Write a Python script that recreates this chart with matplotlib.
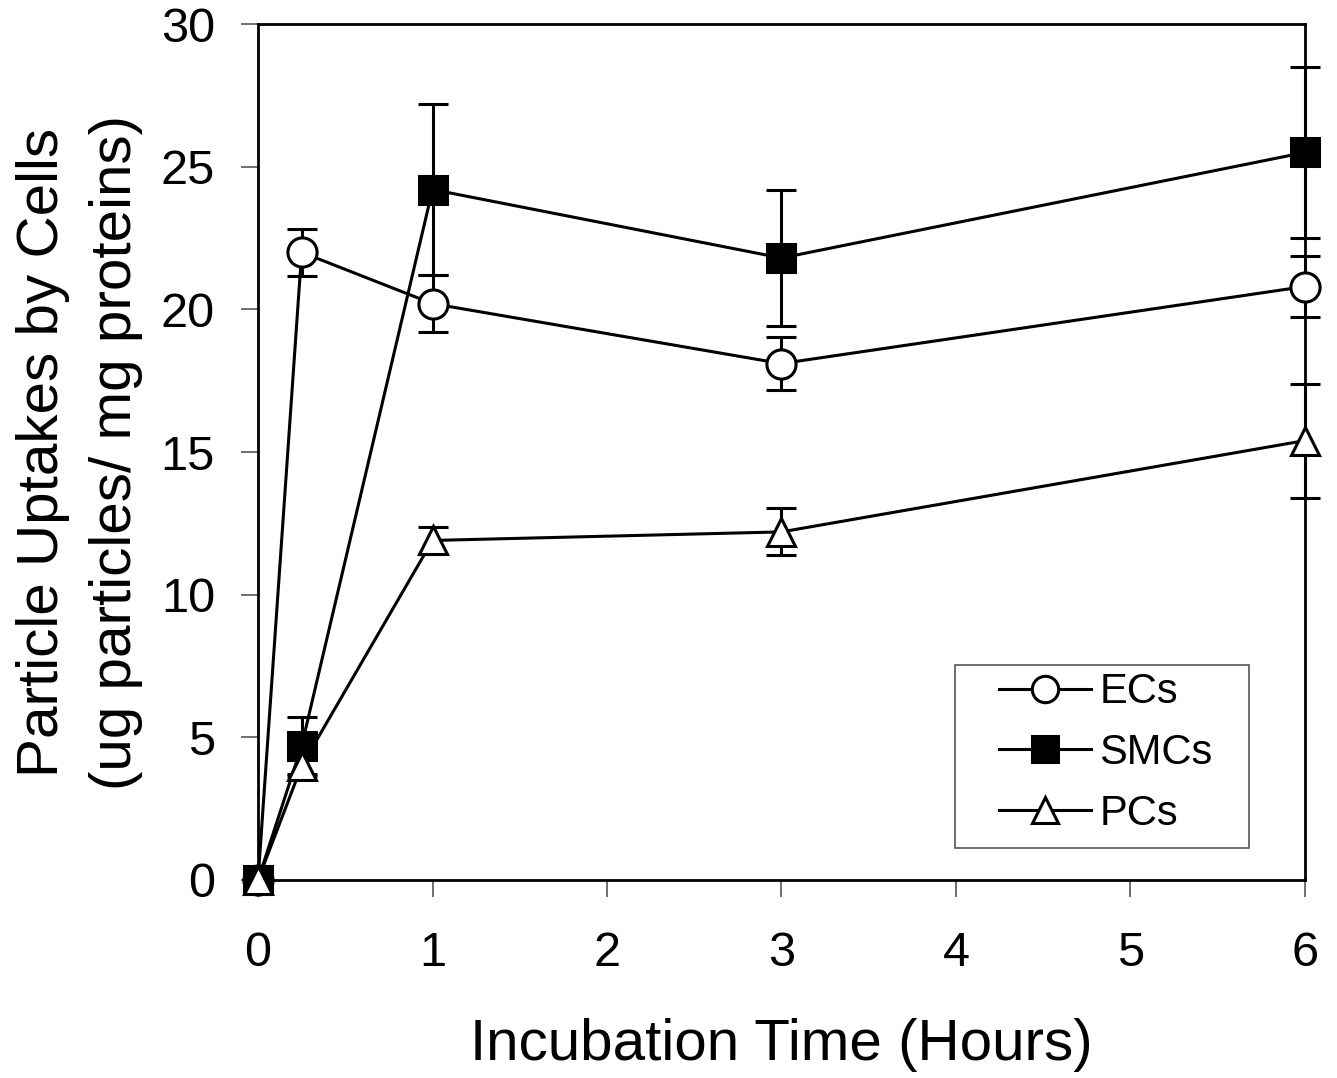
import matplotlib
matplotlib.use("Agg")
import matplotlib.pyplot as plt
from matplotlib.patches import Rectangle

plt.rcParams['font.family'] = ['Liberation Sans', 'DejaVu Sans']

time_hours = [0, 0.25, 1, 3, 6]
ecs = [0, 22.0, 20.2, 18.1, 20.8]
ecs_err = [0, 0.82, 1.0, 0.93, 1.08]
smcs = [0, 4.7, 24.2, 21.8, 25.5]
smcs_err = [0, 1.0, 3.0, 2.4, 3.0]
pcs = [0, 4.0, 11.9, 12.2, 15.4]
pcs_err = [0, 0.35, 0.46, 0.82, 2.0]
series_names = ["ECs", "SMCs", "PCs"]

fig = plt.figure(figsize=(13.37, 10.78), dpi=100)
ax = fig.add_axes([0.193, 0.1837, 0.783, 0.794])

common = dict(color='black', lw=2.2, elinewidth=2.2, capsize=11, capthick=2.2,
              markeredgewidth=2.2, markeredgecolor='black', clip_on=False)
h1 = ax.errorbar(time_hours, ecs, yerr=ecs_err, marker='o', ms=21,
                 markerfacecolor='white', label=series_names[0], zorder=3, **common)
h2 = ax.errorbar(time_hours, smcs, yerr=smcs_err, marker='s', ms=20,
                 markerfacecolor='black', label=series_names[1], zorder=4, **common)
h3 = ax.errorbar(time_hours, pcs, yerr=pcs_err, marker='^', ms=20,
                 markerfacecolor='white', label=series_names[2], zorder=5, **common)

ax.set_xlim(0, 6)
ax.set_ylim(0, 30)
ax.set_xticks(range(0, 7))
ax.set_yticks(range(0, 31, 5))
ax.tick_params(axis='both', labelsize=35, length=12, width=1.2, color='#555555',
               direction='out')
ax.tick_params(axis='x', pad=25)
ax.tick_params(axis='y', pad=19)
for s in ax.spines.values():
    s.set_linewidth(2)

ax.set_xlabel("Incubation Time (Hours)", fontsize=42, labelpad=30)
ax.set_ylabel("Particle Uptakes by Cells\n(ug particles/ mg proteins)", fontsize=42,
              labelpad=13, linespacing=1.45)

leg = ax.legend(handles=[h1[0], h2[0], h3[0]], labels=series_names, loc='center',
                bbox_to_anchor=(0.81, 0.1484), fontsize=30, frameon=False,
                handlelength=2.2, borderpad=0, labelspacing=0.5, handletextpad=0.2,
                borderaxespad=0)
for line in leg.get_lines():
    line.set_markersize(19)

ax.add_patch(Rectangle((0.6657, 0.0374), 0.2808, 0.2138, transform=ax.transAxes,
                       fill=False, edgecolor='#555555', lw=1.2, zorder=6))

fig.savefig("out.png", dpi=100)
